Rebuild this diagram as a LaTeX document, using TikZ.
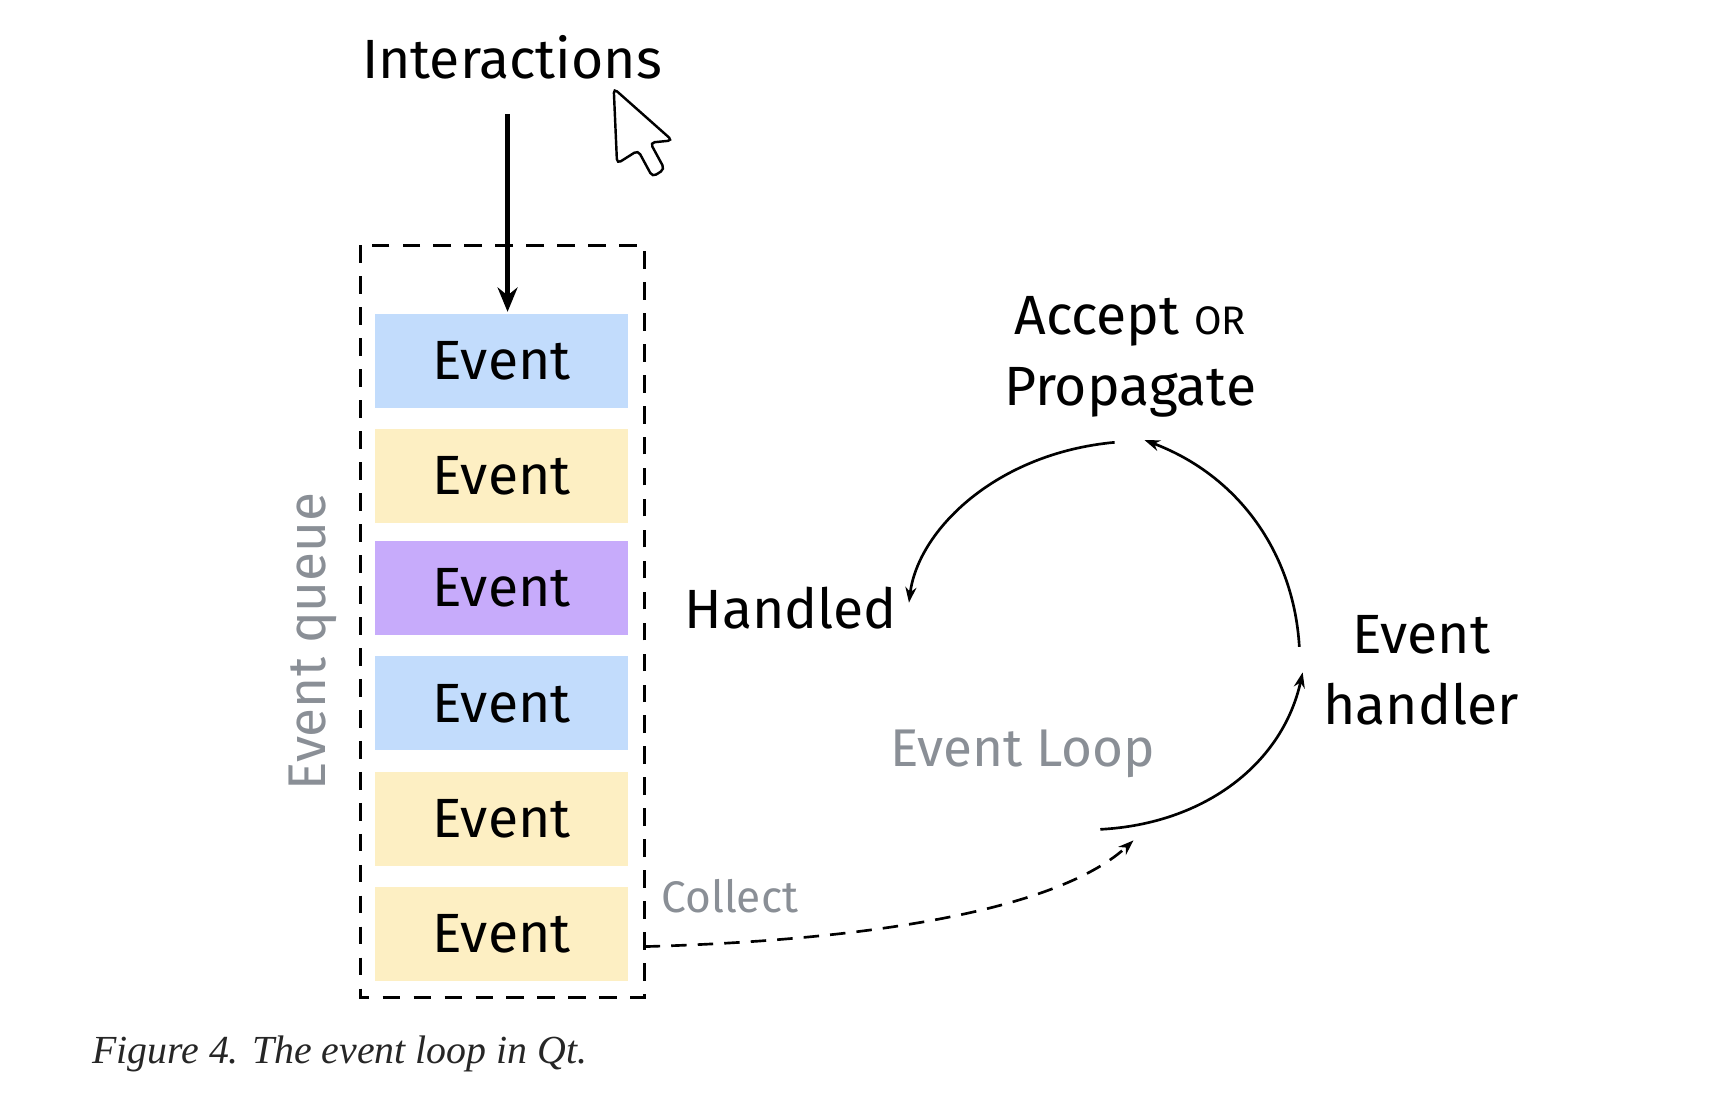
\documentclass[tikz,border=0pt]{standalone}
\usepackage{fontspec}
\setmainfont{Fira Sans}
\newfontfamily\capfont{Liberation Serif}
\usetikzlibrary{arrows.meta}
\definecolor{qblue}{HTML}{C2DCFC}
\definecolor{qyellow}{HTML}{FDEFC3}
\definecolor{qpurple}{HTML}{C7ABFB}
\definecolor{qgray}{HTML}{8A8F96}
\begin{document}
\begin{tikzpicture}[x=0.5pt,y=-0.5pt,
  lbl/.style={font=\fontsize{25}{30}\selectfont,text=black,inner sep=0},
  glbl/.style={font=\fontsize{24}{28}\selectfont,text=qgray,inner sep=0},
  ev/.style={minimum width=115.5pt,minimum height=43.5pt,inner sep=0,draw=white,line width=1pt,font=\fontsize{25}{30}\selectfont},
  arc/.style={line width=1.2pt,-{Stealth[length=7pt,width=5pt]}}]
\useasboundingbox (0,0) rectangle (1550,989);
\fill[white] (0,0) rectangle (1550,989);
\node[lbl] (inter) at (463,52) {Interactions};
\draw[line width=1.1pt,rounded corners=2pt,fill=white] (555,80) -- (608,127) -- (588,129) -- (601,153) -- (590,160) -- (577,136) -- (558,148) -- cycle;
\coordinate (box) at (326,222);
\draw[dashed,line width=1.5pt,dash pattern=on 8pt off 6pt] (326,222) rectangle (583,902);
\node[ev,fill=qblue] (e1) at (453.5,326.5) {Event};
\node[ev,fill=qyellow] (e2) at (453.5,430.5) {Event};
\node[ev,fill=qpurple] (e3) at (453.5,531.5) {Event};
\node[ev,fill=qblue] (e4) at (453.5,636) {Event};
\node[ev,fill=qyellow] (e5) at (453.5,740.5) {Event};
\node[ev,fill=qyellow] (e6) at (453.5,844.5) {Event};
\coordinate (atop) at (459,103);
\draw[line width=2pt,-{Stealth[length=11pt,width=9pt]}] (atop) -- (e1.north -| atop);
\node[glbl,rotate=90] (queue) at (283,580) {Event queue};
\node[lbl] (handled) at (715,550) {Handled};
\node[lbl,align=center] (accept) at (1022,323) {Accept {\fontsize{18}{20}\selectfont OR}\\[2pt]Propagate};
\node[lbl,align=center] (handler) at (1285,606) {Event\\[2pt]handler};
\node[glbl] (loop) at (925,682) {Event Loop};
\node[glbl,font=\fontsize{20}{24}\selectfont] (collect) at (660,810) {Collect};
\coordinate (a1s) at (1008,400); \coordinate (a1e) at (822,545);
\coordinate (a2s) at (1175,585); \coordinate (a2e) at (1035,398);
\coordinate (a3s) at (995,750); \coordinate (a3e) at (1178,608);
\coordinate (a4s) at (583,856); \coordinate (a4e) at (1025,760);
\draw[arc] (a1s) .. controls (900,410) and (830,480) .. (a1e);
\draw[arc] (a2s) .. controls (1170,500) and (1120,430) .. (a2e);
\draw[arc] (a3s) .. controls (1090,745) and (1160,690) .. (a3e);
\draw[arc,dashed,dash pattern=on 7pt off 5pt] (a4s) .. controls (800,850) and (960,820) .. (a4e);
\node[anchor=west,inner sep=0,font=\capfont\itshape\fontsize{18}{22}\selectfont,text=black!85] (cap) at (83,953) {Figure 4. The event loop in Qt.};
\end{tikzpicture}
\end{document}
